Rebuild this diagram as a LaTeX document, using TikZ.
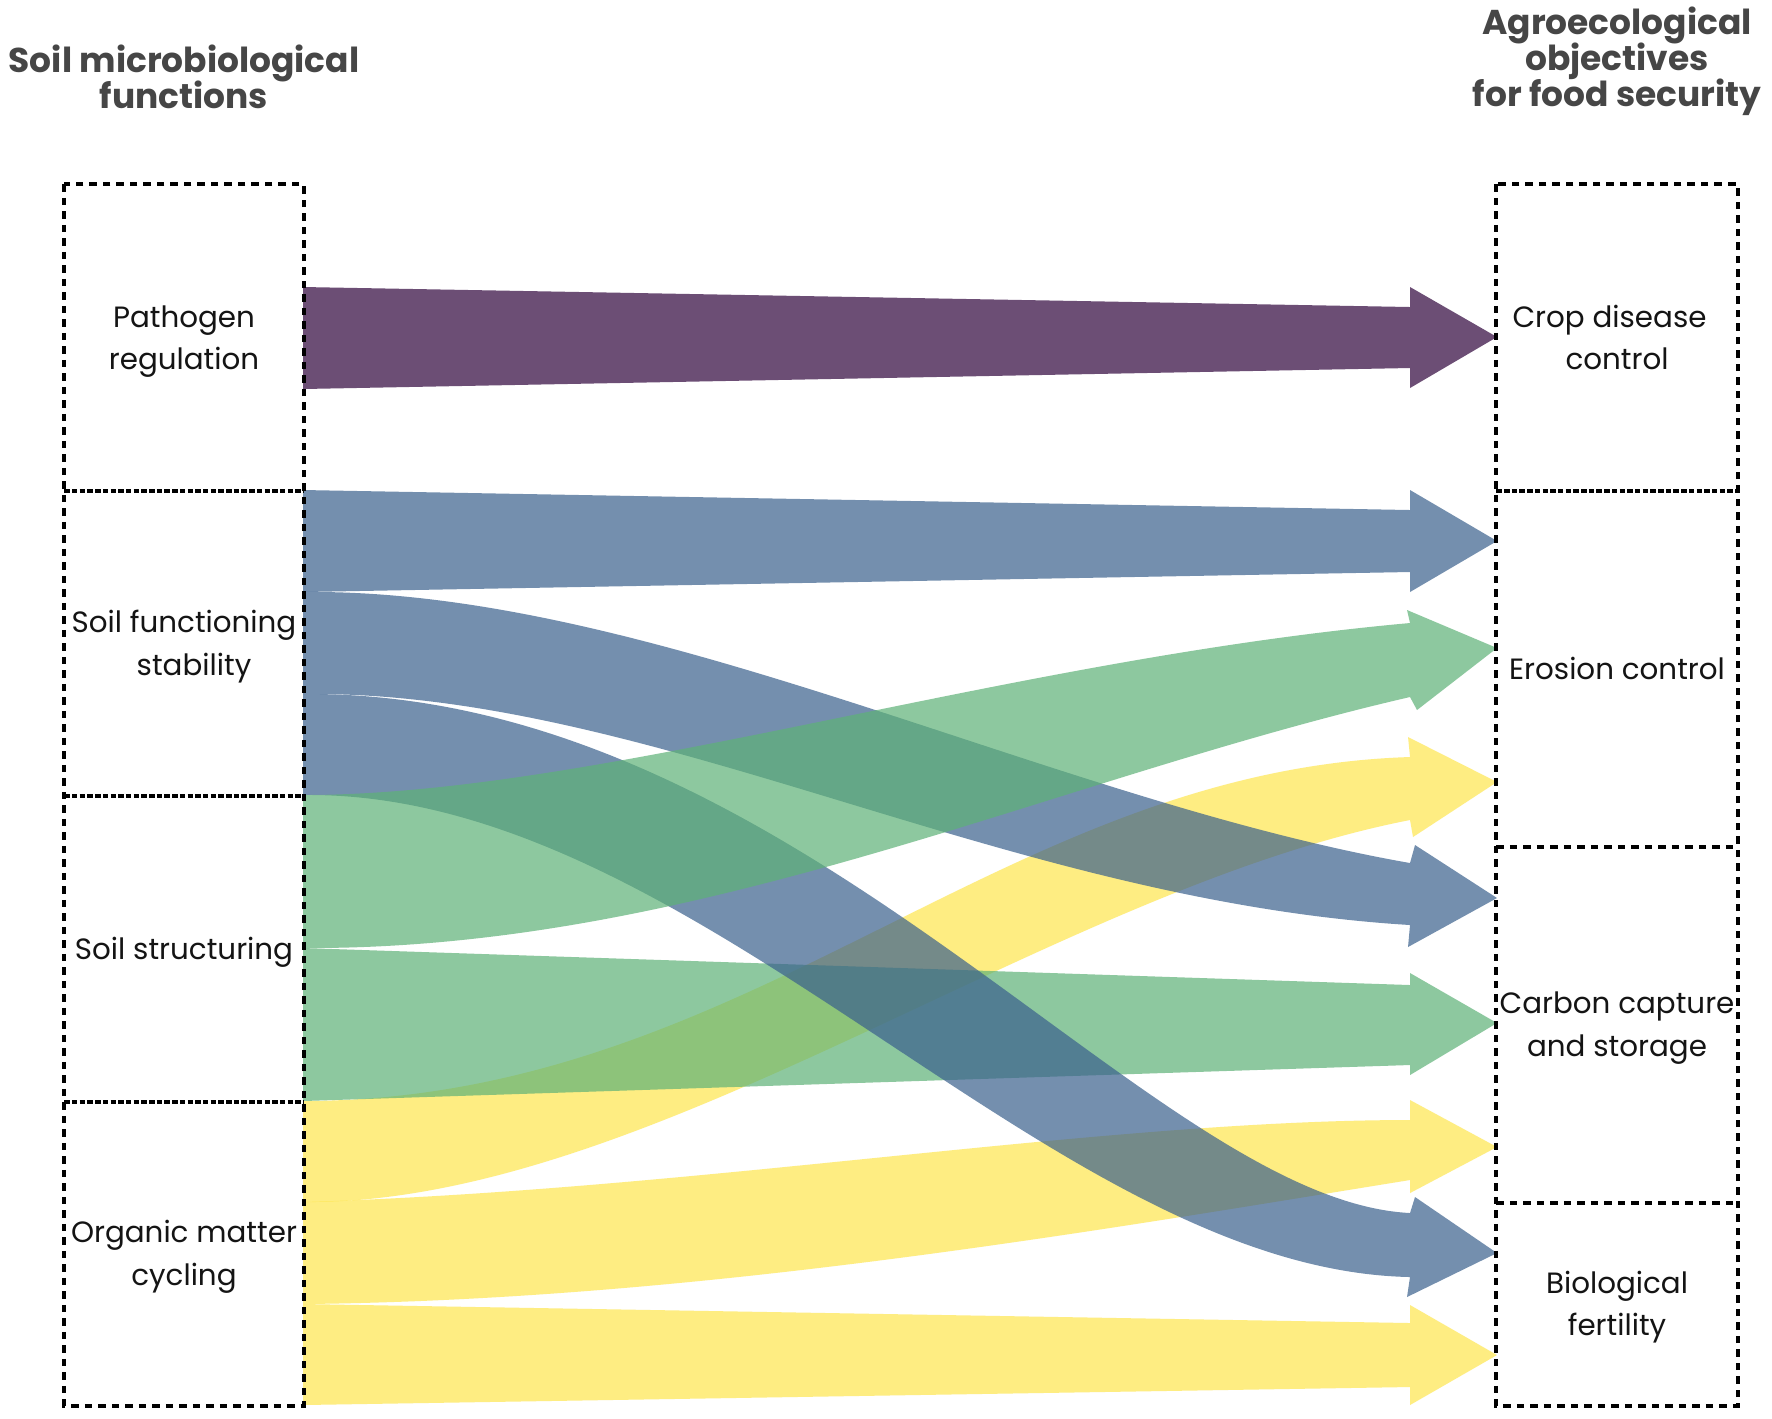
\documentclass[tikz,border=0pt]{standalone}
\usepackage{fontspec}
\setmainfont{Poppins}
\usetikzlibrary{backgrounds}
\definecolor{purp}{RGB}{108,78,117}
\definecolor{blu}{RGB}{58,96,141}
\definecolor{grn}{RGB}{94,178,119}
\definecolor{yel}{RGB}{254,230,78}
\definecolor{ttlgrey}{RGB}{70,70,70}
\definecolor{lblblack}{RGB}{20,20,20}
\newcommand\lblfont{\fontsize{8.35pt}{12.1pt}\selectfont\lineskiplimit=-20pt\lineskip=0pt}
\newcommand\ttlfont{\fontsize{9.8pt}{10.2pt}\selectfont\bfseries\lineskiplimit=-20pt\lineskip=0pt}
\begin{document}
\begin{tikzpicture}[x=0.1mm,y=-0.1mm,
  box/.style={inner sep=0pt, align=center, font=\lblfont, text=lblblack, text depth=0pt},
  lbox/.style={box, minimum width=23.8mm},
  rbox/.style={box, minimum width=24mm},
  frame/.style={draw=black, line width=0.38mm, dash pattern=on 0.75mm off 0.6mm},
  divider/.style={draw=black, line width=0.38mm, dash pattern=on 0.55mm off 0.22mm},
  ttl/.style={align=center, font=\ttlfont, text=ttlgrey, inner sep=0pt, text depth=0pt},
  rib/.style={fill opacity=0.7}]
\useasboundingbox (0,0) rectangle (1772,1418);

% titles
\node[ttl] (lt) at (184,77) {Soil microbiological\\functions};
\node[ttl] (rt) at (1617,57) {Agroecological\\objectives\\for food security};

% left boxes
\node[lbox, minimum height=30.5mm] (pat) at (184,337.5) {Pathogen\\regulation};
\node[lbox, minimum height=30.5mm] (sfs) at (184,642.5) {Soil functioning\\\hspace*{2mm}stability};
\node[lbox, minimum height=30.6mm] (sst) at (184,948) {Soil structuring};
\node[lbox, minimum height=30.4mm] (omc) at (184,1253) {Organic matter\\cycling};

% right boxes
\node[rbox, minimum height=30.5mm] (cdc) at (1617,337.5) {Crop disease\hspace*{1.5mm}\\control};
\node[rbox, minimum height=35.6mm] (ero) at (1617,668) {Erosion control};
\node[rbox, minimum height=35.6mm] (ccs) at (1617,1024) {Carbon capture\\and storage};
\node[rbox, minimum height=20.3mm] (bio) at (1617,1303.5) {Biological\\fertility};

% dashed frames and dividers
\draw[frame] (pat.north west) rectangle (omc.south east);
\draw[divider] (pat.south west) -- (pat.south east);
\draw[divider] (sfs.south west) -- (sfs.south east);
\draw[divider] (sst.south west) -- (sst.south east);
\draw[frame] (cdc.north west) rectangle (bio.south east);
\draw[divider] (cdc.south west) -- (cdc.south east);
\draw[frame] (ero.south west) -- (ero.south east);
\draw[frame] (ccs.south west) -- (ccs.south east);

\begin{scope}[on background layer]
\fill[white] (0,0) rectangle (1772,1418);
% yellow flows (organic matter cycling)
\fill[yel, rib] (303,1101) .. controls (750,1100) and (1000,770) .. (1410,757)
  -- (1408,737) -- (1497,782) -- (1413,837) -- (1410,820)
  .. controls (1050,890) and (650,1205) .. (303,1202) -- cycle;
\fill[yel, rib] (303,1202) .. controls (700,1190) and (1100,1120) .. (1410,1120)
  -- (1410,1100) -- (1497,1147) -- (1410,1193) -- (1410,1180)
  .. controls (1100,1230) and (700,1300) .. (303,1304) -- cycle;
\fill[yel, rib] (303,1304) -- (1410,1323) -- (1410,1305) -- (1497,1355)
  -- (1410,1405) -- (1410,1387) -- (303,1405) -- cycle;
% green flow to carbon capture
\fill[grn, rib] (303,948) -- (1410,985) -- (1410,973) -- (1497,1023)
  -- (1410,1075) -- (1410,1065) -- (303,1101) -- cycle;
% purple flow
\fill[purp] (303,287) -- (1410,307) -- (1410,287) -- (1497,337)
  -- (1410,388) -- (1410,368) -- (303,389) -- cycle;
% blue flows (soil functioning stability)
\fill[blu, rib] (303,490) -- (1410,510) -- (1410,490) -- (1497,541)
  -- (1410,592) -- (1410,572) -- (303,592) -- cycle;
\fill[blu, rib] (303,592) .. controls (650,588) and (1050,800) .. (1410,863)
  -- (1415,845) -- (1497,898) -- (1408,947) -- (1410,925)
  .. controls (1000,900) and (650,690) .. (303,694) -- cycle;
\fill[blu, rib] (303,694) .. controls (800,690) and (1150,1200) .. (1410,1213)
  -- (1415,1197) -- (1497,1253) -- (1407,1297) -- (1410,1277)
  .. controls (1050,1270) and (700,790) .. (303,795) -- cycle;
% green flow to erosion control
\fill[grn, rib] (303,795) .. controls (600,795) and (1000,660) .. (1410,623)
  -- (1407,610) -- (1497,648) -- (1417,710) -- (1410,697)
  .. controls (1050,780) and (700,950) .. (303,948) -- cycle;
\end{scope}
\end{tikzpicture}
\end{document}
